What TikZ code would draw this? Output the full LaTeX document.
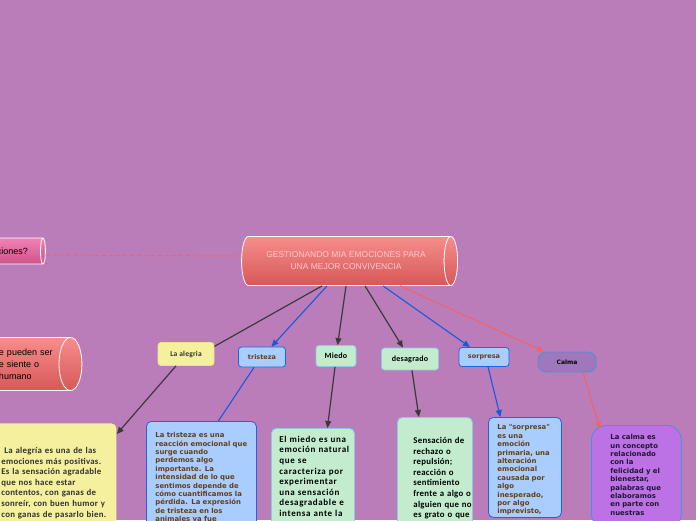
\documentclass[tikz,border=0pt]{standalone}
\usepackage{fontspec}
\usetikzlibrary{shapes.geometric,arrows.meta}
\newfontfamily\carlito[LetterSpace=3]{Carlito}
\newfontfamily\carlitoancha[LetterSpace=7]{Carlito}
\newfontfamily\dejavu{DejaVu Sans}
\newfontfamily\arial{Liberation Sans}
\definecolor{fondo}{RGB}{187,125,186}
\definecolor{rojoA}{RGB}{246,142,140}
\definecolor{rojoB}{RGB}{214,88,88}
\definecolor{rosaA}{RGB}{240,130,180}
\definecolor{rosaB}{RGB}{208,82,140}
\definecolor{rosaT}{RGB}{255,200,200}
\definecolor{amarillo}{RGB}{245,240,158}
\definecolor{amarilloB}{RGB}{232,226,140}
\definecolor{azulF}{RGB}{170,205,255}
\definecolor{azulB}{RGB}{30,100,228}
\definecolor{verdeF}{RGB}{194,236,205}
\definecolor{verdeB}{RGB}{140,200,228}
\definecolor{calmaF}{RGB}{158,120,186}
\definecolor{calmaT}{RGB}{188,114,228}
\definecolor{calmaB}{RGB}{70,145,225}
\definecolor{grisL}{RGB}{58,58,58}
\definecolor{grisT}{RGB}{50,50,50}
\definecolor{cafe}{RGB}{100,62,22}
\definecolor{rojoL}{RGB}{242,100,100}
\definecolor{azulL}{RGB}{20,90,222}
\definecolor{marino}{RGB}{30,22,50}
\tikzset{
  cilindro/.style={shape=cylinder, draw=white, line width=0.8pt, top color=rojoA, bottom color=rojoB, aspect=0.75, inner sep=0pt},
  etiqueta/.style={draw, rounded corners=3pt, inner sep=0pt, line width=0.8pt},
  caja/.style={draw, rounded corners=5pt, anchor=north west, inner xsep=0pt, text depth=80pt, line width=0.8pt},
  sangria/.style={execute at begin node={\leftskip=#1\rightskip=-40pt plus 1fil\hyphenpenalty=10000\noindent}},
  flecha/.style={-{Triangle[length=7pt,width=6pt]}},
  gris/.style={draw=grisL, line width=1.2pt},
  azul/.style={draw=azulL, line width=1.1pt},
  rojo/.style={draw=rojoL, line width=1.1pt},
  carta/.style={font=\carlito\bfseries\fontsize{8.8}{10.6}\selectfont},
  verd/.style={font=\dejavu\bfseries\fontsize{6.9}{8.4}\selectfont}
}
\begin{document}
\begin{tikzpicture}[x=1pt,y=-1pt]
\fill[fondo] (0,0) rectangle (696,520);
\useasboundingbox (0,0) rectangle (696,520);
\clip (0,0) rectangle (696,520);

% tema central y temas sueltos
\node[cilindro, minimum height=216pt, minimum width=49pt, text=rosaT, align=center,
  font=\arial\fontsize{8.5}{12}\selectfont] (centro) at (346,261)
  {GESTIONANDO MIA EMOCIONES PARA\\UNA MEJOR CONVIVENCIA};
\node[cilindro, top color=rosaA, bottom color=rosaB, minimum height=148pt, minimum width=26pt,
  text width=116pt, align=right, font=\arial\fontsize{9}{12}\selectfont] (pregunta) at (-30,251) {emociones?};
\node[cilindro, minimum height=240pt, minimum width=53pt, text width=180pt, sangria=133pt,
  font=\arial\fontsize{9}{12}\selectfont] (humano) at (-44,364) {e pueden ser\\e siente o\\humano};

% emociones
\node[etiqueta, fill=amarillo, draw=amarilloB, minimum width=56pt, minimum height=23pt, text=grisT,
  font=\carlito\bfseries\fontsize{7.5}{9}\selectfont] (alegria) at (186,354) {La alegria};
\node[etiqueta, fill=azulF, draw=azulB, minimum width=47pt, minimum height=20pt, text=cafe,
  font=\dejavu\bfseries\fontsize{6.5}{8}\selectfont] (tristeza) at (262,357) {tristeza};
\node[etiqueta, fill=verdeF, draw=verdeB, minimum width=40pt, minimum height=21pt, text=black,
  font=\carlito\bfseries\fontsize{8}{9}\selectfont] (miedo) at (336,356) {Miedo};
\node[etiqueta, fill=verdeF, draw=verdeB, minimum width=57pt, minimum height=22pt, text=black,
  font=\carlito\bfseries\fontsize{8}{9}\selectfont] (desagrado) at (410,359) {desagrado};
\node[etiqueta, fill=azulF, draw=azulB, minimum width=50pt, minimum height=19pt, text=cafe,
  font=\dejavu\bfseries\fontsize{6.5}{8}\selectfont] (sorpresa) at (484,357) {sorpresa};
\node[etiqueta, fill=calmaF, draw=calmaB, rounded corners=8pt, minimum width=58pt, minimum height=20pt, text=black,
  font=\dejavu\bfseries\fontsize{6}{8}\selectfont] (calma) at (567,362) {Calma};

% definiciones
\node[caja, carta, sangria=13pt, fill=amarillo, draw=none, inner ysep=24pt, text width=128pt, text=grisT]
  (alegriatxt) at (-12,423) {\ La alegría es una de las\\emociones más positivas.\\Es la sensación agradable\\que nos hace estar\\contentos, con ganas de\\sonreír, con buen humor y\\con ganas de pasarlo bien.};
\node[caja, verd, sangria=9pt, fill=azulF, draw=azulB, inner ysep=11pt, text width=110pt, text=cafe]
  (tristezatxt) at (146,421) {La tristeza es una\\reacción emocional que\\surge cuando\\perdemos algo\\importante. La\\intensidad de lo que\\sentimos depende de\\cómo cuantificamos la\\pérdida. La expresión\\de tristeza en los\\animales ya fue};
\node[caja, sangria=8pt, fill=verdeF, draw=verdeB, inner ysep=7.5pt, text width=83pt, text=black,
  font=\carlitoancha\bfseries\fontsize{9}{10.6}\selectfont]
  (miedotxt) at (271,428) {El miedo es una\\emoción natural\\que se\\caracteriza por\\experimentar\\una sensación\\desagradable e\\intensa ante la};
\node[caja, carta, sangria=16pt, fill=verdeF, draw=verdeB, inner ysep=20pt, text width=75pt, text=black]
  (desagradotxt) at (397,417) {Sensación de\\rechazo o\\repulsión;\\reacción o\\sentimiento\\frente a algo o\\alguien que no\\es grato o que};
\node[caja, verd, sangria=9pt, fill=azulF, draw=azulB, inner ysep=7.5pt, text width=73pt, text=cafe]
  (sorpresatxt) at (488,417) {La "sorpresa"\\es una\\emoción\\primaria, una\\alteración\\emocional\\causada por\\algo\\inesperado,\\por algo\\imprevisto,};
\node[caja, verd, sangria=19pt, fill=calmaT, draw=calmaB, rounded corners=15pt, inner ysep=9pt, text width=90pt, text=marino]
  (calmatxt) at (591,425) {La calma es\\un concepto\\relacionado\\con la\\felicidad y el\\bienestar,\\palabras que\\elaboramos\\en parte con\\nuestras};

% conectores
\draw[rojoL, line width=1pt, dash pattern=on 4pt off 3pt] ([yshift=-4pt]pregunta.east) -- ([yshift=5pt]centro.west);
\draw[gris] ([xshift=-24pt]centro.south) -- (alegria.15);
\draw[azul, flecha] ([xshift=-19pt]centro.south) -- (tristeza);
\draw[gris, flecha] ([xshift=0pt]centro.south) -- (miedo);
\draw[gris, flecha] ([xshift=19pt]centro.south) -- (desagrado);
\draw[azul, flecha] ([xshift=37pt]centro.south) -- (sorpresa);
\draw[rojo, flecha] ([xshift=54pt]centro.south) -- (calma);
\draw[gris, flecha] ([xshift=-10pt]alegria.south) -- ([yshift=-11pt]alegriatxt.north east);
\draw[azul] ([xshift=-8pt]tristeza.south) -- ([xshift=17pt]tristezatxt.north);
\draw[gris, flecha] ([xshift=-1pt]miedo.south) -- ([xshift=14.5pt]miedotxt.north);
\draw[gris, flecha] ([xshift=2pt]desagrado.south) -- ([xshift=-16pt]desagradotxt.north);
\draw[azul, flecha] ([xshift=4pt]sorpresa.south) -- ([xshift=-24.5pt]sorpresatxt.north);
\draw[rojo, flecha] ([xshift=16pt]calma.south) -- ([xshift=9pt,yshift=-4pt]calmatxt.north west);
\end{tikzpicture}
\end{document}
